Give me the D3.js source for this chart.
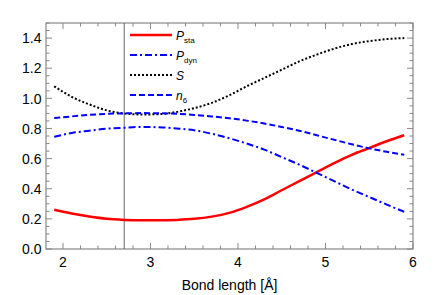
<!DOCTYPE html>
<html>
<head>
<meta charset="utf-8">
<script src="https://cdn.jsdelivr.net/npm/d3@7"></script>
<style>
body { margin: 0; background: #fff; }
text { font-family: "Liberation Sans", Arial, sans-serif; }
</style>
</head>
<body>
<div id="chart"></div>
<script>
var bond = [1.9, 2.1, 2.3, 2.5, 2.7, 2.9, 3.1, 3.3, 3.5, 3.7, 3.9, 4.1, 4.3, 4.5, 4.7, 4.9, 5.1, 5.3, 5.5, 5.7, 5.9];
var pSta = [0.26, 0.235, 0.215, 0.2, 0.193, 0.19, 0.19, 0.193, 0.2, 0.215, 0.24, 0.28, 0.33, 0.39, 0.45, 0.51, 0.57, 0.625, 0.67, 0.715, 0.755];
var pDyn = [0.745, 0.77, 0.785, 0.798, 0.805, 0.81, 0.808, 0.8, 0.788, 0.765, 0.735, 0.7, 0.66, 0.61, 0.56, 0.505, 0.45, 0.395, 0.345, 0.295, 0.247];
var sVal = [1.08, 1.01, 0.96, 0.92, 0.9, 0.893, 0.895, 0.91, 0.935, 0.97, 1.02, 1.08, 1.135, 1.19, 1.245, 1.29, 1.33, 1.36, 1.38, 1.393, 1.40];
var n6 = [0.87, 0.88, 0.89, 0.897, 0.9, 0.902, 0.901, 0.897, 0.89, 0.88, 0.868, 0.852, 0.833, 0.81, 0.785, 0.755, 0.725, 0.695, 0.668, 0.645, 0.625];
var xTicks = [2, 3, 4, 5, 6];
var yTicks = [0, 0.2, 0.4, 0.6, 0.8, 1.0, 1.2, 1.4];
var markX = 2.7;

var series = [
  {name: "P", sub: "sta", values: pSta, color: "#ff0000", width: 2.5, dash: null},
  {name: "P", sub: "dyn", values: pDyn, color: "#0000ff", width: 2, dash: "7,3,2,3"},
  {name: "S", sub: "", values: sVal, color: "#000000", width: 2, dash: "2,2"},
  {name: "n", sub: "6", values: n6, color: "#0000ff", width: 2, dash: "6,3"}
];

var width = 436, height = 295;
var margin = {left: 46, right: 23, top: 23, bottom: 46};
var svg = d3.select("#chart").append("svg")
  .attr("width", width).attr("height", height);

var x = d3.scaleLinear().domain([1.806, 6]).range([margin.left, width - margin.right]);
var y = d3.scaleLinear().domain([0, 1.5]).range([height - margin.bottom, margin.top]);

var frameColor = "#888";
var x0 = x.range()[0], x1 = x.range()[1], y0 = y.range()[0], y1 = y.range()[1];

// minor + major ticks, inside, on all four sides
var xMinor = d3.range(2, 6.001, 0.2);
var yMinor = d3.range(0, 1.5001, 0.05);
var tk = svg.append("g").attr("stroke", frameColor).attr("stroke-width", 1);
function isMajor(v, list) { return list.some(function(t){ return Math.abs(t - v) < 1e-6; }); }
xMinor.forEach(function(v){
  var len = isMajor(v, xTicks) ? 6 : 3.5;
  tk.append("line").attr("x1", x(v)).attr("x2", x(v)).attr("y1", y0).attr("y2", y0 - len);
  tk.append("line").attr("x1", x(v)).attr("x2", x(v)).attr("y1", y1).attr("y2", y1 + len);
});
yMinor.forEach(function(v){
  var len = isMajor(v, yTicks) ? 6 : 3.5;
  tk.append("line").attr("y1", y(v)).attr("y2", y(v)).attr("x1", x0).attr("x2", x0 + len);
  tk.append("line").attr("y1", y(v)).attr("y2", y(v)).attr("x1", x1).attr("x2", x1 - len);
});

svg.append("rect")
  .attr("x", x0).attr("y", y1).attr("width", x1 - x0).attr("height", y0 - y1)
  .attr("fill", "none").attr("stroke", frameColor).attr("stroke-width", 1.2);

// tick labels
svg.append("g").selectAll("text").data(xTicks).enter().append("text")
  .attr("x", function(d){ return x(d); }).attr("y", y0 + 17.5)
  .attr("text-anchor", "middle").attr("font-size", 14)
  .text(function(d){ return d; });
svg.append("g").selectAll("text").data(yTicks).enter().append("text")
  .attr("x", x0 - 4.5).attr("y", function(d){ return y(d) + 5.2; })
  .attr("text-anchor", "end").attr("font-size", 14)
  .text(function(d){ return d.toFixed(1); });

svg.append("text").attr("x", (x0 + x1) / 2).attr("y", 290)
  .attr("text-anchor", "middle").attr("font-size", 14)
  .text("Bond length [Å]");

// vertical marker
svg.append("line").attr("x1", x(markX)).attr("x2", x(markX)).attr("y1", y0).attr("y2", y1)
  .attr("stroke", "#666").attr("stroke-width", 1);

var line = d3.line().curve(d3.curveMonotoneX)
  .x(function(d, i){ return x(bond[i]); })
  .y(function(d){ return y(d); });

svg.append("g").selectAll("path").data(series).enter().append("path")
  .attr("d", function(d){ return line(d.values); })
  .attr("fill", "none")
  .attr("stroke", function(d){ return d.color; })
  .attr("stroke-width", function(d){ return d.width; })
  .attr("stroke-dasharray", function(d){ return d.dash; });

// legend
var leg = svg.append("g").selectAll("g").data(series).enter().append("g")
  .attr("transform", function(d, i){ return "translate(130," + (35 + i * 20) + ")"; });
leg.append("line").attr("x1", 0).attr("x2", 42).attr("y1", 0).attr("y2", 0)
  .attr("stroke", function(d){ return d.color; })
  .attr("stroke-width", function(d){ return d.width; })
  .attr("stroke-dasharray", function(d){ return d.dash; });
var lt = leg.append("text").attr("x", 46).attr("y", 4.5).attr("font-size", 12)
  .attr("font-style", "italic");
lt.append("tspan").text(function(d){ return d.name; });
lt.append("tspan").attr("font-size", 8).attr("font-style", "normal").attr("dy", 3)
  .text(function(d){ return d.sub; });
</script>
</body>
</html>
